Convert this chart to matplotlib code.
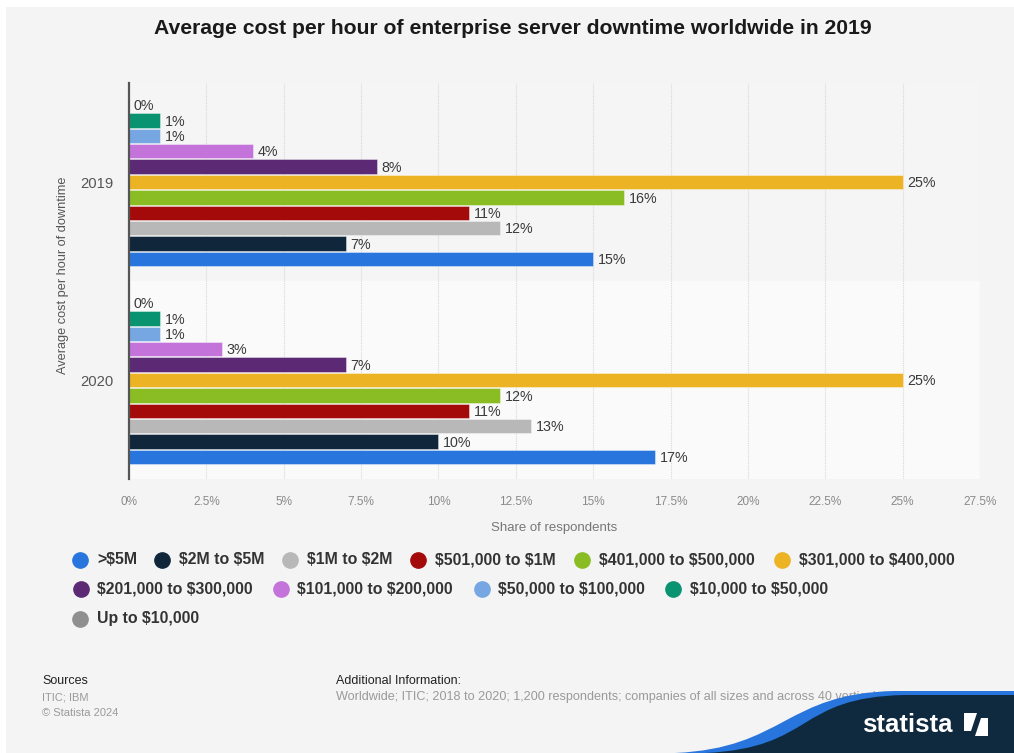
import matplotlib
matplotlib.use("Agg")
import matplotlib.pyplot as plt
from matplotlib.lines import Line2D
from matplotlib.patches import PathPatch, Rectangle, Polygon
from matplotlib.path import Path
import numpy as np

plt.rcParams['font.family'] = ['Liberation Sans', 'DejaVu Sans']
plt.rcParams['text.parse_math'] = False

# ---------------- data ----------------
years = ["2019", "2020"]
series = ["Up to $10,000", "$10,000 to $50,000", "$50,000 to $100,000",
          "$101,000 to $200,000", "$201,000 to $300,000", "$301,000 to $400,000",
          "$401,000 to $500,000", "$501,000 to $1M", "$1M to $2M",
          "$2M to $5M", ">$5M"]
values_2019 = [0, 1, 1, 4, 8, 25, 16, 11, 12, 7, 15]
values_2020 = [0, 1, 1, 3, 7, 25, 12, 11, 13, 10, 17]
colors = ["#8f8f8f", "#0a9370", "#76a7e3", "#c373d9", "#5c2a74", "#ecb424",
          "#8abd24", "#a50a0b", "#b8b8b8", "#10263b", "#2876dd"]
xticks = [0, 2.5, 5, 7.5, 10, 12.5, 15, 17.5, 20, 22.5, 25, 27.5]
xtick_labels = ["0%", "2.5%", "5%", "7.5%", "10%", "12.5%", "15%", "17.5%",
                "20%", "22.5%", "25%", "27.5%"]
legend_order = [">$5M", "$2M to $5M", "$1M to $2M", "$501,000 to $1M",
                "$401,000 to $500,000", "$301,000 to $400,000",
                "$201,000 to $300,000", "$101,000 to $200,000",
                "$50,000 to $100,000", "$10,000 to $50,000", "Up to $10,000"]

W, H = 1014, 753
fig = plt.figure(figsize=(W / 100, H / 100), dpi=100)
fig.patch.set_facecolor("#f4f4f4")

def fx(px):
    return px / W

def fy(py):
    return 1 - py / H

# white strips at top/left (page crop)
fig.add_artist(Rectangle((0, fy(7)), 1, 7 / H, transform=fig.transFigure,
                         facecolor="white", edgecolor="none", zorder=0))
fig.add_artist(Rectangle((0, 0), 6 / W, 1, transform=fig.transFigure,
                         facecolor="white", edgecolor="none", zorder=0))

ax = fig.add_axes([fx(129), fy(479), fx(980) - fx(129), fy(83) - fy(479)])
ax.set_facecolor("#f4f4f4")
ax.set_xlim(0, 27.5)
ax.set_ylim(1.5, -0.5)

ax.axhspan(-0.5, 0.5, color="#f5f5f5", zorder=0)
ax.axhspan(0.5, 1.5, color="#fafafa", zorder=0)

for t in xticks[1:]:
    ax.axvline(t, color="#d8d8d8", lw=0.8, ls=(0, (1, 1)), zorder=1)

step = 0.0778
bh = 0.072
n = len(series)
all_vals = [values_2019, values_2020]
for gi, vals in enumerate(all_vals):
    for i, (s, v, c) in enumerate(zip(series, vals, colors)):
        y = gi + (i - (n - 1) / 2) * step
        ax.barh(y, v, height=bh, color=c, edgecolor=(1, 1, 1, 0.45),
                linewidth=0.6, zorder=3)
        ax.text(v + 0.15, y + 0.006, f"{v}%", va="center", ha="left",
                fontsize=10.3, color="#3a3a3a", zorder=4)

ax.set_xticks(xticks)
ax.set_xticklabels(xtick_labels, fontsize=8.5, color="#8a8a8a")
ax.set_yticks([0, 1])
ax.set_yticklabels(years, fontsize=10.6, color="#555555")
ax.tick_params(axis="both", length=0)
ax.tick_params(axis="x", pad=12)
ax.tick_params(axis="y", pad=11.5)
for sp in ["top", "right", "bottom"]:
    ax.spines[sp].set_visible(False)
ax.spines["left"].set_color("#555555")
ax.spines["left"].set_linewidth(1.6)
ax.spines["left"].set_zorder(5)

ax.set_xlabel("Share of respondents", fontsize=9.5, color="#777777", labelpad=10)
ax.set_ylabel("Average cost per hour of downtime", fontsize=9.2, color="#555555")
ax.yaxis.set_label_coords((69 - 129) / 851, 1 - (275.5 - 83) / 396)

fig.text(fx(513), fy(29), "Average cost per hour of enterprise server downtime worldwide in 2019",
         ha="center", va="center", fontsize=15.2, fontweight="bold", color="#1a1a1a")

# legend (manual flow layout): (row y, [(marker x, text x), ...])
leg_rows = [(560, [(80, 97), (162, 179), (290, 307), (418, 435), (582, 599), (782, 799)]),
            (589, [(81, 97), (281, 297), (482, 498), (673, 690)]),
            (619, [(80, 97)])]
cmap = dict(zip(series, colors))
k = 0
for ypx, xs in leg_rows:
    for mx, tx in xs:
        name = legend_order[k]
        fig.add_artist(Line2D([fx(mx)], [fy(ypx)], marker="o", markersize=11,
                              color=cmap[name], transform=fig.transFigure,
                              linestyle="none"))
        fig.text(fx(tx), fy(ypx), name, ha="left", va="center",
                 fontsize=11.4, fontweight="bold", color="#333333")
        k += 1

# footer
fig.text(fx(42), fy(681), "Sources", fontsize=9, color="#222222", va="center")
fig.text(fx(42), fy(697), "ITIC; IBM", fontsize=8, color="#9a9a9a", va="center")
fig.text(fx(42), fy(713), "© Statista 2024", fontsize=8, color="#9a9a9a", va="center")
fig.text(fx(336), fy(681), "Additional Information:", fontsize=9, color="#222222", va="center")
fig.text(fx(336), fy(697),
         "Worldwide; ITIC; 2018 to 2020; 1,200 respondents; companies of all sizes and across 40 verticals",
         fontsize=9.1, color="#9a9a9a", va="center", zorder=1)

# statista logo
def wave(x0, y0, x1, y1):
    verts = [(fx(x0), fy(y0)),
             (fx(x0 + 110), fy(y0 - 5)), (fx(x1 - 110), fy(y1 + 2)), (fx(x1), fy(y1)),
             (fx(1014), fy(y1)), (fx(1014), fy(753)), (fx(x0), fy(753))]
    codes = [Path.MOVETO, Path.CURVE4, Path.CURVE4, Path.CURVE4,
             Path.LINETO, Path.LINETO, Path.CLOSEPOLY]
    return Path(verts, codes)

fig.add_artist(PathPatch(wave(675, 753, 895, 691), facecolor="#2876dd",
                         edgecolor="none", transform=fig.transFigure, zorder=5))
fig.add_artist(PathPatch(wave(705, 753, 905, 695), facecolor="#0f2a3f",
                         edgecolor="none", transform=fig.transFigure, zorder=6))
fig.text(fx(862), fy(725), "statista", fontsize=18.5, fontweight="bold",
         color="white", va="center", ha="left", zorder=7)
fig.add_artist(Rectangle((fx(964), fy(736)), 24 / W, 23 / H, transform=fig.transFigure,
                         facecolor="white", edgecolor="none", zorder=7))
fig.add_artist(Polygon([(fx(964), fy(736)), (fx(975), fy(736)), (fx(981), fy(718)),
                        (fx(988), fy(718)), (fx(988), fy(713)), (fx(977), fy(713)),
                        (fx(971), fy(731)), (fx(964), fy(731))],
                       closed=True, transform=fig.transFigure,
                       facecolor="#0f2a3f", edgecolor="none", zorder=8))

fig.savefig("out.png", dpi=100, facecolor=fig.get_facecolor())
